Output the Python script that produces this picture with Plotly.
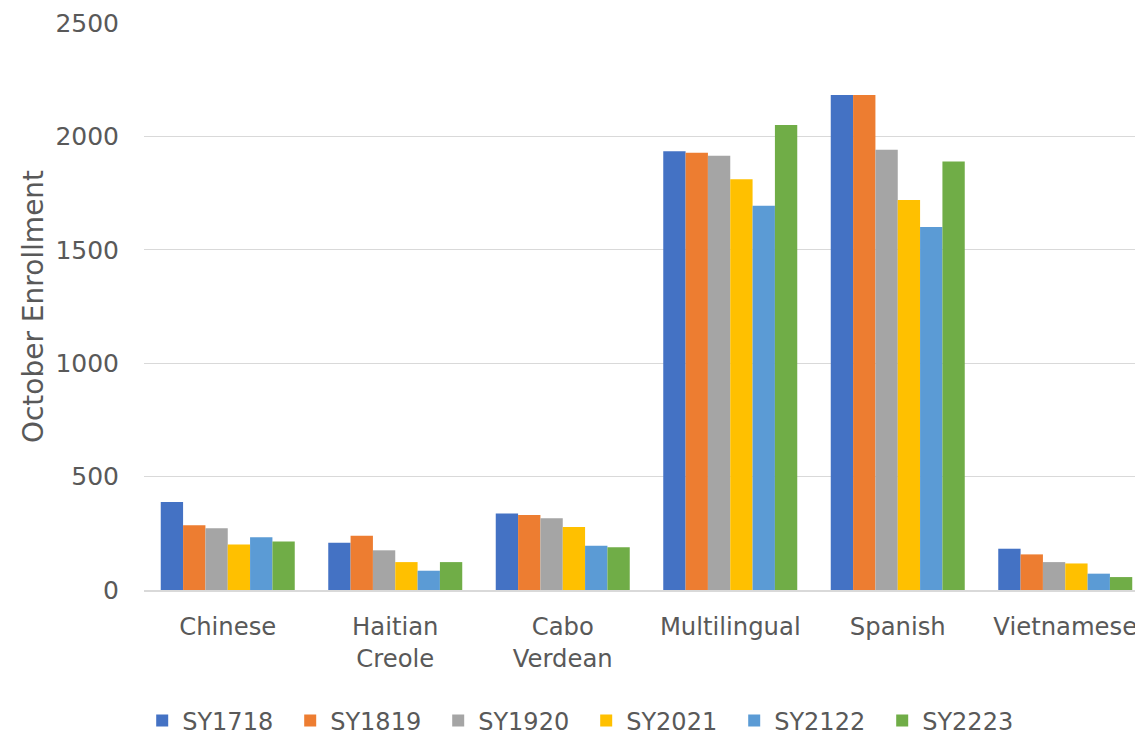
import plotly.graph_objects as go

categories = ["Chinese", "Haitian<br>Creole", "Cabo<br>Verdean", "Multilingual", "Spanish", "Vietnamese"]
series_names = ["SY1718", "SY1819", "SY1920", "SY2021", "SY2122", "SY2223"]
sy1718 = [388, 208, 337, 1935, 2182, 182]
sy1819 = [286, 239, 331, 1928, 2182, 157]
sy1920 = [272, 175, 316, 1915, 1941, 123]
sy2021 = [201, 123, 278, 1811, 1720, 117]
sy2122 = [233, 85, 195, 1694, 1601, 72]
sy2223 = [214, 123, 188, 2050, 1889, 57]
colors = ["#4472C4", "#ED7D31", "#A5A5A5", "#FFC000", "#5B9BD5", "#70AD47"]

values = [sy1718, sy1819, sy1920, sy2021, sy2122, sy2223]

fig = go.Figure()
for name, vals, col in zip(series_names, values, colors):
    fig.add_trace(go.Bar(name=name, x=categories, y=vals, marker=dict(color=col, line=dict(width=0))))

font_family = "DejaVu Sans, sans-serif"
text_color = "#595959"
fig.update_layout(
    width=1143, height=735,
    barmode="group", bargap=0.2, bargroupgap=0,
    plot_bgcolor="white", paper_bgcolor="white",
    margin=dict(l=136, r=2, t=15, b=153, autoexpand=False),
    font=dict(family=font_family, size=25, color=text_color),
    xaxis=dict(range=[-0.5, 5.5], showline=True, linecolor="#D9D9D9", linewidth=1.5, ticks="",
               tickfont=dict(size=24.3, color=text_color), ticklabelstandoff=14),
    yaxis=dict(range=[0, 2500], dtick=500, showgrid=True, gridcolor="#D9D9D9", gridwidth=1.3,
               zeroline=False, ticks="", tickfont=dict(size=25, color=text_color), ticklabelstandoff=24,
               title=dict(text="October Enrollment", font=dict(size=28, color=text_color), standoff=3)),
    legend=dict(orientation="h", x=0.44, xanchor="center", y=-0.231, yanchor="middle",
                font=dict(size=24, color=text_color), itemwidth=30, traceorder="normal",
                entrywidth=103),
    showlegend=True,
)
fig.write_html("out.html")
